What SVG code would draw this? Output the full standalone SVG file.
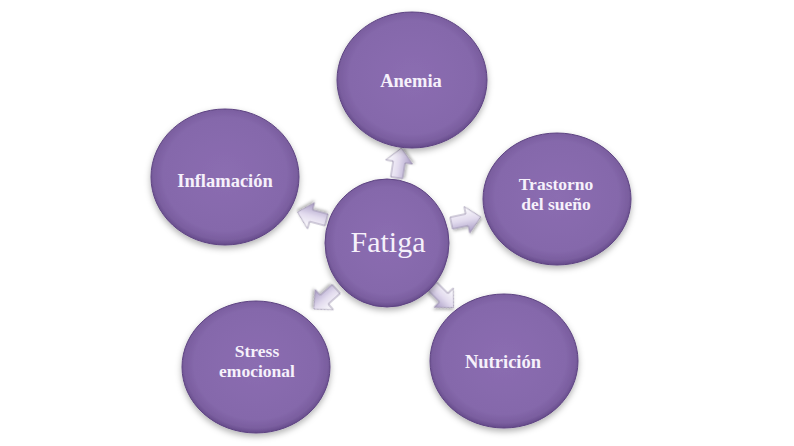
<svg xmlns="http://www.w3.org/2000/svg" width="794" height="446" viewBox="0 0 794 446">
  <defs>
    <radialGradient id="ballFill" cx="50%" cy="48%" r="52%">
      <stop offset="0%" stop-color="#8b6db1"/>
      <stop offset="80%" stop-color="#8568ab"/>
      <stop offset="93%" stop-color="#7a5e9f"/>
      <stop offset="100%" stop-color="#654a8a"/>
    </radialGradient>
    <linearGradient id="arrowFill" x1="0" y1="0" x2="0" y2="1">
      <stop offset="0%" stop-color="#ffffff"/>
      <stop offset="50%" stop-color="#e2dbee"/>
      <stop offset="100%" stop-color="#a597c2"/>
    </linearGradient>
    <filter id="shadow" x="-20%" y="-20%" width="140%" height="150%">
      <feDropShadow dx="0" dy="3" stdDeviation="3" flood-color="#000" flood-opacity="0.3"/>
    </filter>
    <filter id="ashadow" x="-30%" y="-30%" width="160%" height="160%">
      <feDropShadow dx="1" dy="2" stdDeviation="1.5" flood-color="#000" flood-opacity="0.3"/>
    </filter>
    <polygon id="arrowShape" points="-15,-6 1,-6 1,-13.5 15,0 1,13.5 1,6 -15,6"/>
  </defs>
  <style>
    .ball { fill: url(#ballFill); stroke: #5e4482; stroke-width: 1; filter: url(#shadow); }
    .lbl { font-family: "Liberation Serif", "Times New Roman", serif; font-weight: bold; font-size: 18.5px; fill: #f6f1fb; text-anchor: middle; }
    .lbl2 { font-size: 17.5px; }
    .center { font-family: "Liberation Serif", "Times New Roman", serif; font-size: 30px; fill: #f6f1fb; text-anchor: middle; }
    .arrow { fill: url(#arrowFill); stroke: #958ca8; stroke-width: 0.8; filter: url(#ashadow); }
  </style>
  <rect width="794" height="446" fill="#ffffff"/>

  <g id="connectors">
    <use href="#arrowShape" class="arrow" transform="translate(399,163) rotate(-81)"/>
    <use href="#arrowShape" class="arrow" transform="translate(312,216) rotate(195)"/>
    <use href="#arrowShape" class="arrow" transform="translate(466,220) rotate(-12)"/>
    <use href="#arrowShape" class="arrow" transform="translate(325,299) rotate(138)"/>
    <use href="#arrowShape" class="arrow" transform="translate(443,297) rotate(45)"/>
  </g>

  <g id="node-fatiga">
    <ellipse class="ball" cx="387" cy="243" rx="62" ry="64"/>
    <text class="center" x="388" y="252">Fatiga</text>
  </g>
  <g id="node-anemia">
    <ellipse class="ball" cx="412" cy="80" rx="75" ry="68"/>
    <text class="lbl" x="411" y="87">Anemia</text>
  </g>
  <g id="node-inflamacion">
    <ellipse class="ball" cx="225" cy="177" rx="74" ry="68"/>
    <text class="lbl" x="225" y="187">Inflamación</text>
  </g>
  <g id="node-trastorno">
    <ellipse class="ball" cx="557" cy="199" rx="74" ry="66"/>
    <text class="lbl lbl2" x="556" y="190">Trastorno</text>
    <text class="lbl lbl2" x="556" y="210">del sueño</text>
  </g>
  <g id="node-stress">
    <ellipse class="ball" cx="256" cy="367" rx="74" ry="66"/>
    <text class="lbl lbl2" x="257" y="357">Stress</text>
    <text class="lbl lbl2" x="257" y="377">emocional</text>
  </g>
  <g id="node-nutricion">
    <ellipse class="ball" cx="504" cy="361" rx="74" ry="67"/>
    <text class="lbl" x="503" y="368">Nutrición</text>
  </g>
</svg>
